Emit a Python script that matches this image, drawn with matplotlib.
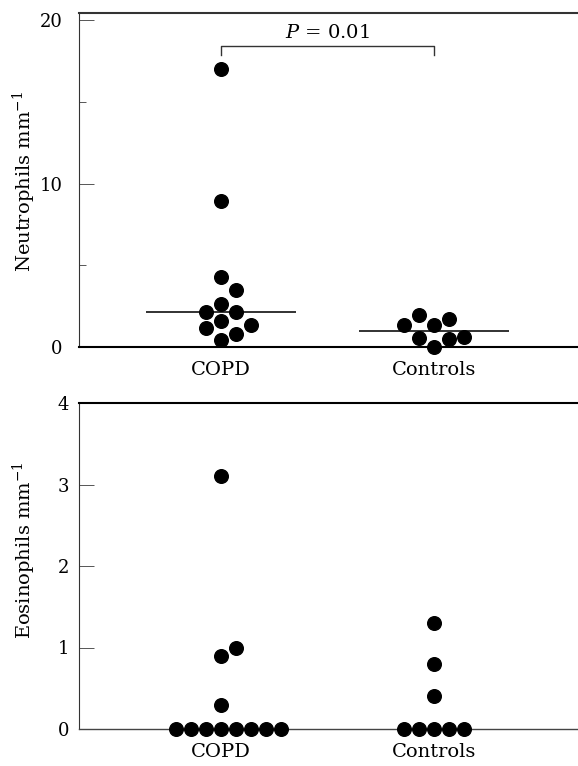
import numpy as np
import matplotlib.pyplot as plt

plt.rcParams['font.family'] = ['DejaVu Serif']
plt.rcParams['mathtext.fontset'] = 'dejavuserif'

# Datos
grupos = ['COPD', 'Controls']
neut_copd = [17.0, 8.9, 4.25, 3.45, 2.6, 2.15, 2.15, 1.55, 1.3, 1.15, 0.8, 0.4]
neut_ctrl = [1.95, 1.7, 1.3, 1.3, 0.6, 0.55, 0.45, 0.0]
eos_copd = [3.1, 1.0, 0.9, 0.3, 0, 0, 0, 0, 0, 0, 0, 0]
eos_ctrl = [1.3, 0.8, 0.4, 0, 0, 0, 0, 0]
texto_p = '$P$ = 0.01'

W, H = 578, 766
X0, X1 = 0.33, 2.68


# Reparto horizontal tipo "swarm": se colocan de menor a mayor
def swarm(valores, px_x, px_y, paso=15, dmin=15):
    orden = np.argsort(valores, kind='stable')
    colocados = []
    offs = np.zeros(len(valores))
    candidatos = [0, 1, -1, 2, -2, 3, -3, 4, -4, 5, -5]
    for i in orden:
        y = valores[i] * px_y
        for k in candidatos:
            x = k * paso
            if all(np.hypot(x - xx, y - yy) >= dmin for xx, yy in colocados):
                break
        colocados.append((x, y))
        offs[i] = x / px_x
    return offs


def panel(ax, series, ymax, mediana):
    ax.set_xlim(X0, X1)
    ax.set_ylim(0, ymax)
    bb = ax.get_position()
    px_x = bb.width * W / (X1 - X0)
    px_y = bb.height * H / ymax
    for c, vals in enumerate(series, start=1):
        vals = np.array(vals, dtype=float)
        xs = c + swarm(vals, px_x, px_y)
        ax.plot(xs, vals, 'o', color='black', markersize=9.8, clip_on=False, zorder=3)
        if mediana:
            hw = 75 / px_x
            ax.hlines(np.median(vals), c - hw, c + hw, color='#222', lw=1.3, zorder=2)
    ax.set_xticks([1, 2])
    ax.set_xticklabels(grupos, fontsize=14)
    ax.tick_params(axis='x', length=0, pad=10)
    ax.spines['right'].set_visible(False)
    ax.spines['left'].set_linewidth(0.8)
    ax.spines['left'].set_color('#333')


fig = plt.figure(figsize=(W / 100, H / 100), dpi=100)
ax1 = fig.add_axes([79 / W, 1 - 346.7 / H, 1 - 79 / W, (346.7 - 13) / H])
ax2 = fig.add_axes([79 / W, 1 - 729 / H, 1 - 79 / W, (729 - 403) / H])

# Panel superior: neutrofilos
panel(ax1, [neut_copd, neut_ctrl], 20.45, True)
ax1.set_yticks([0, 10, 20])
ax1.set_yticks([5, 15], minor=True)
ax1.tick_params(axis='y', which='major', direction='in', length=11, width=0.7,
                color='#555', labelsize=13, pad=12)
ax1.tick_params(axis='y', which='minor', direction='in', length=5, width=0.7, color='#555')
ax1.spines['top'].set_linewidth(1.5)
ax1.spines['top'].set_color('#333')
ax1.spines['bottom'].set_linewidth(1.5)
ax1.plot([1, 1, 2, 2], [17.85, 18.4, 18.4, 17.85], color='#333', lw=1)
ax1.text(1.5, 19.25, texto_p, ha='center', va='center', fontsize=14)

# Panel inferior: eosinofilos
panel(ax2, [eos_copd, eos_ctrl], 4, False)
ax2.set_yticks([0, 1, 2, 3, 4])
ax2.tick_params(axis='y', direction='in', length=11, width=0.7, color='#555',
                labelsize=13, pad=7)
ax2.spines['top'].set_linewidth(1.5)
ax2.spines['bottom'].set_linewidth(1.0)
ax2.spines['bottom'].set_color('#444')

fig.text(24 / W, 1 - 181 / H, 'Neutrophils mm$^{-1}$', rotation=90,
         ha='center', va='center', fontsize=14)
fig.text(24 / W, 1 - 550 / H, 'Eosinophils mm$^{-1}$', rotation=90,
         ha='center', va='center', fontsize=14)

fig.savefig('out.png', dpi=100)
